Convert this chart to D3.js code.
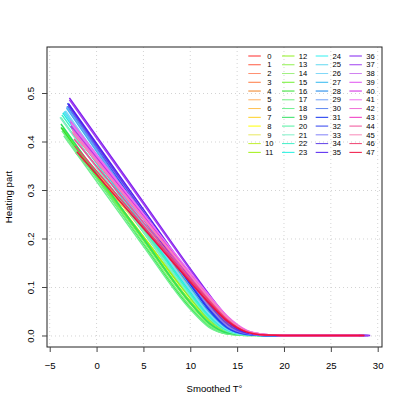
<!DOCTYPE html>
<html>
<head>
<meta charset="utf-8">
<script src="https://cdn.jsdelivr.net/npm/d3@7"></script>
<style>
  body { margin: 0; background: #fff; }
  text { font-family: "Liberation Sans", Arial, sans-serif; }
</style>
</head>
<body>
<svg id="canvas" width="407" height="407"></svg>
<script>
// series labels and colours
let seriesNames = ["0","1","2","3","4","5","6","7","8","9","10","11","12","13","14","15",
  "16","17","18","19","20","21","22","23","24","25","26","27","28","29","30","31",
  "32","33","34","35","36","37","38","39","40","41","42","43","44","45","46","47"]
let lineColors = ["#ff2a2a","#ff5a40","#ff9070","#ff7a40","#f08020","#ffb060","#ffc050","#ffd020",
  "#ffff00","#e8e860","#c0f030","#a0f010","#90f020","#90f050","#a0f080","#70f030",
  "#30e030","#70f080","#70f090","#30e060","#50f0a0","#80f0c8","#40f0c8","#20f0e0",
  "#30f0f0","#60d8f0","#80d8f8","#30b8f0","#1080e8","#70a0f8","#6088f0","#1030f0",
  "#3040f0","#8080f8","#6040e8","#5020f0","#8020f0","#a040f0","#d080f0","#e050f0",
  "#d020e0","#f070f0","#f070d8","#f030c0","#f05098","#f888b8","#f04070","#f01040"]

// smoothed temperature where each curve begins / ends
let startT = [-2.2,-2.6,-2.8,-2.5,-3.0,-2.9,-3.1,-3.2,-3.0,-3.3,
  -3.2,-3.4,-3.5,-3.6,-3.7,-3.6,-3.8,-3.7,-3.5,-3.8,
  -3.8,-3.9,-3.7,-3.6,-3.4,-3.5,-3.3,-3.2,-3.1,-3.2,
  -3.0,-3.0,-3.1,-3.0,-3.0,-3.0,-2.9,-2.9,-2.8,-2.8,
  -2.76,-2.7,-2.6,-2.5,-2.4,-2.6,-2.3,-2.1]
let startHeat = [0.378,0.392,0.400,0.392,0.407,0.401,0.408,0.413,0.407,0.416,
  0.410,0.418,0.421,0.424,0.429,0.429,0.430,0.423,0.413,0.437,
  0.450,0.451,0.456,0.460,0.464,0.462,0.464,0.470,0.474,0.473,
  0.474,0.478,0.480,0.476,0.476,0.479,0.491,0.487,0.445,0.441,
  0.433,0.438,0.426,0.418,0.406,0.421,0.392,0.380]
let endT = [28.5,28.3,28.0,27.8,27.5,27.6,27.4,27.2,27.3,27.0,
  24.5,24.3,24.2,24.0,24.4,23.8,24.1,23.9,24.2,24.3,
  24.2,24.0,24.5,24.3,26.8,26.5,27.0,27.2,27.4,27.0,
  27.6,27.5,27.8,28.0,28.8,29.0,29.2,29.1,28.0,28.2,
  28.3,28.4,27.9,28.1,28.3,28.0,28.5,28.6]

// heating part read at these temperatures
let gridT = [0, 5, 10, 12, 14, 16, 18, 20]
let heat = [
  [0.330,0.220,0.110,0.068,0.030,0.008,0.002,0.001],
  [0.333,0.221,0.108,0.065,0.027,0.007,0.002,0.001],
  [0.336,0.221,0.106,0.062,0.025,0.006,0.002,0.001],
  [0.335,0.221,0.107,0.064,0.026,0.006,0.002,0.001],
  [0.336,0.219,0.101,0.057,0.021,0.005,0.002,0.001],
  [0.334,0.218,0.102,0.059,0.022,0.005,0.002,0.001],
  [0.335,0.217,0.099,0.055,0.020,0.005,0.001,0.001],
  [0.336,0.216,0.096,0.052,0.018,0.004,0.001,0.001],
  [0.336,0.217,0.098,0.054,0.019,0.004,0.001,0.001],
  [0.336,0.215,0.095,0.050,0.017,0.004,0.001,0.001],
  [0.330,0.205,0.081,0.038,0.010,0.002,0.001,0.001],
  [0.332,0.204,0.078,0.034,0.009,0.002,0.001,0.001],
  [0.330,0.200,0.072,0.030,0.007,0.002,0.001,0.001],
  [0.330,0.199,0.070,0.028,0.007,0.002,0.001,0.001],
  [0.331,0.199,0.068,0.027,0.006,0.002,0.001,0.001],
  [0.332,0.198,0.067,0.025,0.006,0.002,0.001,0.001],
  [0.326,0.190,0.058,0.020,0.004,0.001,0.001,0.001],
  [0.325,0.192,0.061,0.022,0.005,0.002,0.001,0.001],
  [0.319,0.185,0.055,0.018,0.004,0.001,0.001,0.001],
  [0.335,0.201,0.069,0.027,0.006,0.002,0.001,0.001],
  [0.348,0.214,0.082,0.036,0.009,0.002,0.001,0.001],
  [0.347,0.215,0.083,0.038,0.010,0.002,0.001,0.001],
  [0.356,0.221,0.087,0.040,0.011,0.003,0.001,0.001],
  [0.362,0.226,0.091,0.043,0.012,0.003,0.001,0.001],
  [0.370,0.232,0.095,0.046,0.013,0.003,0.001,0.001],
  [0.367,0.231,0.096,0.047,0.014,0.003,0.001,0.001],
  [0.373,0.234,0.095,0.046,0.013,0.003,0.001,0.001],
  [0.381,0.241,0.102,0.051,0.015,0.003,0.001,0.001],
  [0.386,0.244,0.103,0.052,0.016,0.003,0.001,0.001],
  [0.384,0.244,0.104,0.053,0.017,0.004,0.001,0.001],
  [0.389,0.248,0.108,0.056,0.018,0.004,0.001,0.001],
  [0.392,0.249,0.107,0.054,0.017,0.004,0.001,0.001],
  [0.392,0.250,0.109,0.056,0.018,0.004,0.001,0.001],
  [0.392,0.252,0.113,0.060,0.020,0.005,0.001,0.001],
  [0.393,0.256,0.119,0.066,0.024,0.006,0.002,0.001],
  [0.397,0.261,0.125,0.073,0.029,0.007,0.002,0.001],
  [0.412,0.276,0.139,0.086,0.039,0.010,0.002,0.001],
  [0.408,0.272,0.136,0.083,0.037,0.009,0.002,0.001],
  [0.375,0.250,0.125,0.077,0.034,0.009,0.002,0.001],
  [0.372,0.250,0.128,0.080,0.037,0.010,0.002,0.001],
  [0.367,0.247,0.127,0.081,0.038,0.011,0.003,0.001],
  [0.373,0.252,0.131,0.084,0.040,0.012,0.003,0.001],
  [0.364,0.245,0.126,0.080,0.038,0.011,0.003,0.001],
  [0.359,0.241,0.123,0.077,0.036,0.010,0.002,0.001],
  [0.350,0.234,0.118,0.074,0.033,0.009,0.002,0.001],
  [0.360,0.242,0.125,0.079,0.037,0.010,0.003,0.001],
  [0.340,0.227,0.115,0.072,0.032,0.009,0.002,0.001],
  [0.333,0.222,0.111,0.068,0.030,0.008,0.002,0.001]
]

let xTicks = [-5, 0, 5, 10, 15, 20, 25, 30]
let yTicks = [0, 0.1, 0.2, 0.3, 0.4, 0.5]
let yTickLabels = ["0.0", "0.1", "0.2", "0.3", "0.4", "0.5"]

let canvas = d3.select("#canvas")
let plotLeft = 47, plotRight = 382, plotTop = 47, plotBottom = 347

let x = d3.scaleLinear().domain([-5.29, 30.46]).range([plotLeft, plotRight])
let y = d3.scaleLinear().domain([-0.0227, 0.5959]).range([plotBottom, plotTop])

// dotted grid
canvas.append("g").selectAll("line")
    .data(xTicks)
    .enter()
    .append("line")
    .attr("x1", (d) => x(d)).attr("x2", (d) => x(d))
    .attr("y1", plotTop).attr("y2", plotBottom)
    .attr("stroke", "#d3d3d3")
    .attr("stroke-dasharray", "1,3")
canvas.append("g").selectAll("line")
    .data(yTicks)
    .enter()
    .append("line")
    .attr("x1", plotLeft).attr("x2", plotRight)
    .attr("y1", (d) => y(d)).attr("y2", (d) => y(d))
    .attr("stroke", "#d3d3d3")
    .attr("stroke-dasharray", "1,3")

// curves
let line = d3.line()
    .x((d) => x(d[0]))
    .y((d) => y(d[1]))
    .curve(d3.curveMonotoneX)

let curves = seriesNames.map((name, i) => {
    let pts = [[startT[i], startHeat[i]]]
    gridT.forEach((t, j) => pts.push([t, heat[i][j]]))
    pts.push([endT[i], heat[i][gridT.length - 1]])
    return pts
})

canvas.append("g")
    .selectAll("path")
    .data(curves)
    .enter()
    .append("path")
    .attr("d", line)
    .attr("fill", "none")
    .attr("stroke", (d, i) => lineColors[i])
    .attr("stroke-width", 1.5)

// box
canvas.append("rect")
    .attr("x", plotLeft).attr("y", plotTop)
    .attr("width", plotRight - plotLeft).attr("height", plotBottom - plotTop)
    .attr("fill", "none")
    .attr("stroke", "#222")

// x axis
let xAxis = d3.axisBottom(x).tickValues(xTicks).tickSize(5).tickPadding(10)
    .tickFormat((d) => d < 0 ? "\u2212" + Math.abs(d) : d)
let gx = canvas.append("g")
    .attr("transform", "translate(0," + plotBottom + ")")
    .call(xAxis)
gx.select(".domain").remove()
gx.selectAll("line").attr("stroke", "#444")
gx.selectAll("text").style("font-size", "9.6px").attr("fill", "#000")
    .style("font-family", "Liberation Sans, Arial, sans-serif")

// y axis (R style, labels turned)
let gy = canvas.append("g")
gy.selectAll("line")
    .data(yTicks)
    .enter()
    .append("line")
    .attr("x1", plotLeft - 5).attr("x2", plotLeft)
    .attr("y1", (d) => y(d)).attr("y2", (d) => y(d))
    .attr("stroke", "#444")
gy.selectAll("text")
    .data(yTicks)
    .enter()
    .append("text")
    .attr("transform", (d) => "translate(33.5," + y(d) + ") rotate(-90)")
    .attr("text-anchor", "middle")
    .style("font-size", "9.6px")
    .text((d, i) => yTickLabels[i])

// titles
canvas.append("text")
    .attr("x", (plotLeft + plotRight) / 2).attr("y", 391.5)
    .attr("text-anchor", "middle")
    .style("font-size", "9.6px")
    .text("Smoothed T\u00b0")
canvas.append("text")
    .attr("transform", "translate(12," + (plotTop + plotBottom) / 2 + ") rotate(-90)")
    .attr("text-anchor", "middle")
    .style("font-size", "9.6px")
    .text("Heating part")

// legend: 4 columns of 12
let legend = canvas.append("g").attr("id", "legend")
let item = legend.selectAll("g")
    .data(seriesNames)
    .enter()
    .append("g")
    .attr("transform", (d, i) => "translate(" + (248.3 + Math.floor(i / 12) * 33.7) + "," + (56 + (i % 12) * 8.76) + ")")
item.append("line")
    .attr("x1", 0).attr("x2", 12.5)
    .attr("y1", 0).attr("y2", 0)
    .attr("stroke", (d, i) => lineColors[i])
    .attr("stroke-width", 1)
item.append("text")
    .attr("x", 21)
    .attr("dy", "0.35em")
    .attr("text-anchor", "middle")
    .style("font-size", "7.6px")
    .text((d) => d)
</script>
</body>
</html>
